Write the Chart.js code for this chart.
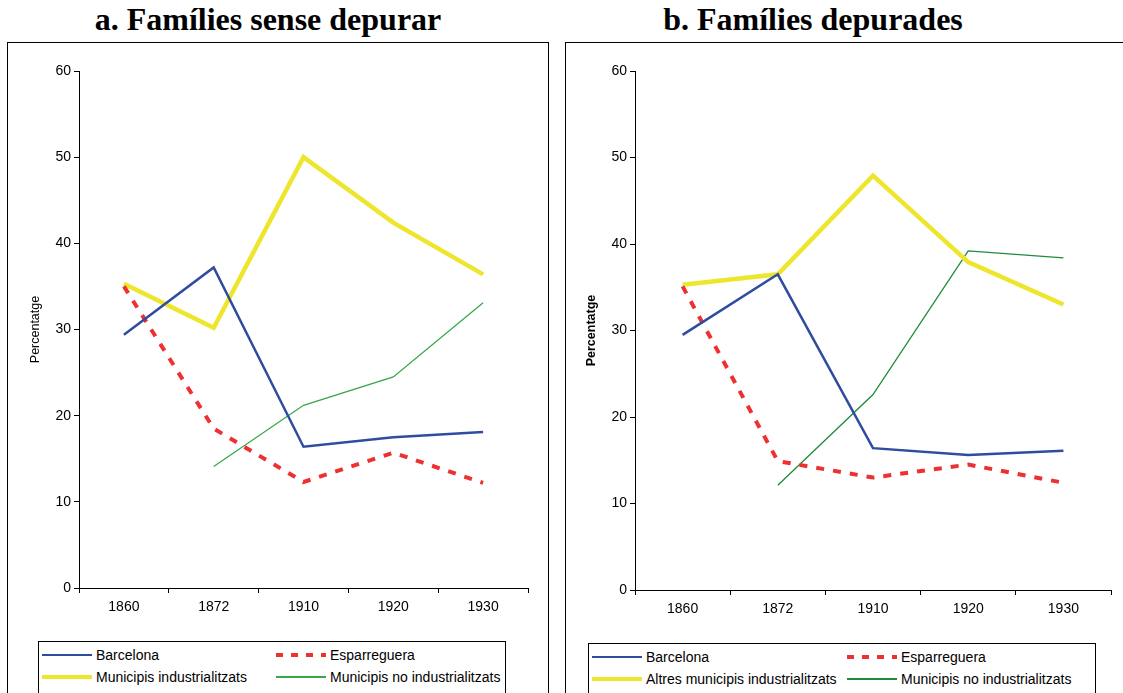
<!DOCTYPE html>
<html>
<head>
<meta charset="utf-8">
<script src="https://cdn.jsdelivr.net/npm/chart.js@4.4.0/dist/chart.umd.min.js"></script>
<style>
  html, body { margin: 0; padding: 0; background: #fff; }
  body { width: 1123px; height: 693px; position: relative; overflow: hidden; font-family: 'Liberation Sans', Arial, sans-serif; }
  .titol { position: absolute; top: 1px; font-family: 'Liberation Serif', 'Times New Roman', serif; font-weight: bold; font-size: 32px; color: #000; text-align: center; white-space: nowrap; }
  .panell { position: absolute; top: 42px; height: 700px; border: 1.5px solid #000; box-sizing: border-box; }
  .graf { position: absolute; top: 43px; }
  .llegenda { position: absolute; top: 641px; height: 60px; border: 1.2px solid #000; box-sizing: border-box; font-size: 14px; color: #000; }
  .item { position: absolute; height: 16px; line-height: 16px; white-space: nowrap; }
  .mostra { position: absolute; top: 6px; }
  .item span { position: absolute; top: 0; }
</style>
</head>
<body>
  <div class="titol" style="left:0; width:536px;">a. Famílies sense depurar</div>
  <div class="titol" style="left:565px; width:496px;">b. Famílies depurades</div>

  <div class="panell" style="left:7px; width:542px;"></div>
  <div class="panell" style="left:565px; width:570px;"></div>

  <canvas id="grafA" class="graf" style="left:8px;" width="538" height="595"></canvas>
  <canvas id="grafB" class="graf" style="left:566px;" width="557" height="595"></canvas>

  <div class="llegenda" id="llegA" style="left:38px; width:468px;"></div>
  <div class="llegenda" id="llegB" style="left:588px; width:508px; top:643px;"></div>

<script>
  const anys = ['1860', '1872', '1910', '1920', '1930'];
  const yMin = 0, yMax = 60, yPas = 10;

  // a. Famílies sense depurar
  const barcelonaA     = [29.4, 37.2, 16.4, 17.5, 18.1];
  const esparregueraA  = [35.0, 18.5, 12.3, 15.7, 12.2];
  const industrialA    = [35.3, 30.2, 50.0, 42.4, 36.4];
  const noIndustrialA  = [null, 14.1, 21.2, 24.5, 33.1];

  // b. Famílies depurades
  const barcelonaB     = [29.5, 36.5, 16.4, 15.6, 16.1];
  const esparregueraB  = [35.1, 14.9, 13.0, 14.5, 12.4];
  const industrialB    = [35.3, 36.5, 47.9, 37.9, 33.0];
  const noIndustrialB  = [null, 12.1, 22.6, 39.2, 38.4];

  const nomsA = ['Barcelona', 'Esparreguera', 'Municipis industrialitzats', 'Municipis no industrialitzats'];
  const nomsB = ['Barcelona', 'Esparreguera', 'Altres municipis industrialitzats', 'Municipis no industrialitzats'];

  const BLAU = '#2F4C9E', VERMELL = '#EE3030', GROC = '#EEE62C', VERD_A = '#3AA84A', VERD_B = '#1E8A3C';

  function datasets(noms, bcn, esp, ind, noInd, verd) {
    return [
      {label: noms[0], data: bcn, borderColor: BLAU, borderWidth: 2.5},
      {label: noms[1], data: esp, borderColor: VERMELL, borderWidth: 4, borderDash: [8, 9]},
      {label: noms[2], data: ind, borderColor: GROC, borderWidth: 4.5},
      {label: noms[3], data: noInd, borderColor: verd, borderWidth: 1.3}
    ].map(d => Object.assign(d, {fill: false, pointRadius: 0, tension: 0, spanGaps: false, borderJoinStyle: 'miter'}));
  }

  function opcions(cfg) {
    return {
      responsive: false,
      animation: false,
      events: [],
      layout: {padding: {left: 0, top: cfg.top, right: cfg.right, bottom: 0}},
      plugins: {legend: {display: false}, tooltip: {enabled: false}},
      scales: {
        x: {
          type: 'category',
          offset: true,
          grid: {display: true, offset: true, drawOnChartArea: false, color: '#000', tickLength: 5, tickWidth: 1},
          border: {display: true, color: '#000', width: 1},
          ticks: {color: '#000', font: {family: 'Liberation Sans', size: 14}, padding: 6, maxRotation: 0},
          afterFit: s => { s.height = cfg.xAlt; }
        },
        y: {
          min: yMin, max: yMax,
          grid: {display: true, drawOnChartArea: false, color: '#000', tickLength: 5, tickWidth: 1},
          border: {display: true, color: '#000', width: 1},
          ticks: {stepSize: yPas, color: '#000', font: {family: 'Liberation Sans', size: 14}, padding: 3},
          title: {display: true, text: 'Percentatge', color: '#000', padding: {top: cfg.titPad, bottom: 0},
                  font: {family: 'Liberation Sans', size: 12.5, weight: cfg.negreta ? 'bold' : 'normal'}},
          afterFit: s => { s.width = cfg.yAmp; }
        }
      }
    };
  }

  new Chart(document.getElementById('grafA'), {
    type: 'line',
    data: {labels: anys, datasets: datasets(nomsA, barcelonaA, esparregueraA, industrialA, noIndustrialA, VERD_A)},
    options: opcions({top: 28, right: 18, xAlt: 50, yAmp: 71, titPad: 20, negreta: false})
  });

  new Chart(document.getElementById('grafB'), {
    type: 'line',
    data: {labels: anys, datasets: datasets(nomsB, barcelonaB, esparregueraB, industrialB, noIndustrialB, VERD_B)},
    options: opcions({top: 28, right: 12, xAlt: 48, yAmp: 69, titPad: 18, negreta: true})
  });

  function mostra(color, amplada, gruix, discontinua) {
    if (discontinua) {
      return `background: repeating-linear-gradient(to right, ${color} 0 7px, transparent 7px 15px); height:${gruix}px; width:${amplada}px;`;
    }
    return `background:${color}; height:${gruix}px; width:${amplada}px;`;
  }

  function llegenda(id, noms, col2, verd) {
    const el = document.getElementById(id);
    const items = [
      {nom: noms[0], x: 3, y: 5, c: BLAU, g: 2.5, w: 50},
      {nom: noms[1], x: col2, y: 5, c: VERMELL, g: 4, w: 50, d: true},
      {nom: noms[2], x: 3, y: 27, c: GROC, g: 4.5, w: 50},
      {nom: noms[3], x: col2, y: 27, c: verd, g: 1.5, w: 50}
    ];
    el.innerHTML = items.map(it => `
      <div class="item" style="left:${it.x}px; top:${it.y}px;">
        <div class="mostra" style="left:0; top:${8 - it.g / 2}px; ${mostra(it.c, it.w, it.g, it.d)}"></div>
        <span style="left:${it.w + 4}px;">${it.nom}</span>
      </div>`).join('');
  }

  llegenda('llegA', nomsA, 237, VERD_A);
  llegenda('llegB', nomsB, 258, VERD_B);
</script>
</body>
</html>
